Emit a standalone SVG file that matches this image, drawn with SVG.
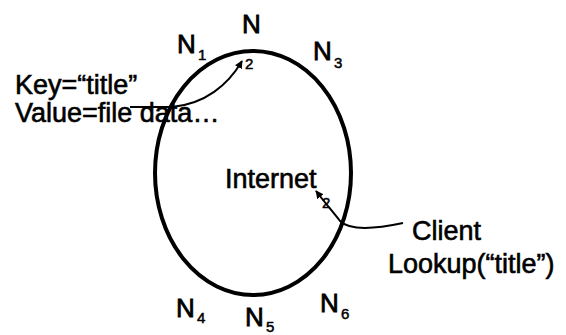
<svg xmlns="http://www.w3.org/2000/svg" width="566" height="335" viewBox="0 0 566 335">
<defs>
<style>
.t{font-family:"Liberation Sans",Arial,sans-serif;font-size:27px;fill:#000;stroke:#000;stroke-width:0.6}
.n{font-family:"Liberation Sans",Arial,sans-serif;font-size:26px;fill:#000;stroke:#000;stroke-width:0.8}
.s{font-family:"Liberation Sans",Arial,sans-serif;font-size:15px;fill:#000;stroke:#000;stroke-width:0.5}
.c{fill:none;stroke:#000;stroke-width:2}
</style>
<marker id="ah" viewBox="0 0 10 10" refX="9" refY="5" markerWidth="4" markerHeight="4" orient="auto">
<path d="M0,0 L10,5 L0,10 z" fill="#000"/>
</marker>
</defs>
<rect width="566" height="335" fill="#fff"/>
<g id="ring">
<ellipse cx="253" cy="173" rx="98" ry="122" fill="none" stroke="#000" stroke-width="4"/>
<text class="t" x="225" y="188">Internet</text>
</g>
<g id="n2"><text class="n" x="242" y="33">N</text><text class="s" x="245" y="69">2</text></g>
<g id="n1"><text class="n" x="177" y="53">N</text><text class="s" x="198" y="60">1</text></g>
<g id="n3"><text class="n" x="313" y="60">N</text><text class="s" x="334" y="68">3</text></g>
<g id="n4"><text class="n" x="176" y="317">N</text><text class="s" x="197" y="323">4</text></g>
<g id="n5"><text class="n" x="245" y="326">N</text><text class="s" x="266" y="332">5</text></g>
<g id="n6"><text class="n" x="320" y="312">N</text><text class="s" x="341" y="319">6</text></g>
<g id="key"><text class="t" x="15" y="94">Key=“title”</text><text class="t" x="15" y="122">Value=file data…</text></g>
<g id="client"><text class="t" x="412" y="240">Client</text><text class="t" x="388" y="273">Lookup(“title”)</text><text class="s" x="322" y="208">2</text></g>
<g id="connectors">
<path class="c" d="M130,107 L172,107 C205,104 228,85 242,61" marker-end="url(#ah)"/>
<path class="c" d="M403,223 C375,229 350,231 340,221 C333,212 326,204 316,191" marker-end="url(#ah)"/>
</g>
</svg>
